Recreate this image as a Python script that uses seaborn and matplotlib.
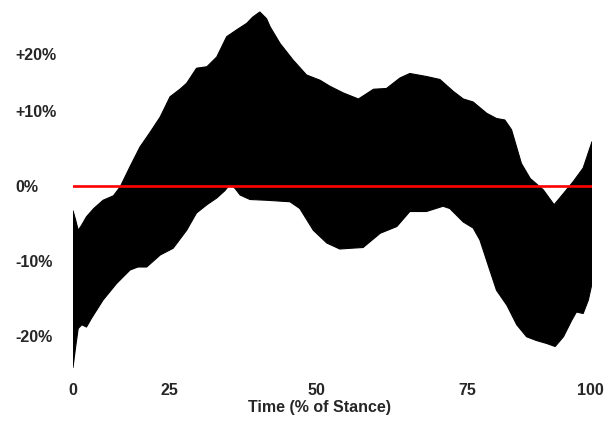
import numpy as np
import matplotlib
matplotlib.use("Agg")
import matplotlib.pyplot as plt
import seaborn as sns

# Upper edge of the range band (time in % of stance, value in %)
upper_t = [0, 0.5, 1.0, 1.6, 2.6, 4.0, 5.8, 7.8, 9.1, 11.0, 12.9, 14.8, 16.8, 18.7,
           20.6, 21.9, 23.8, 25.8, 27.7, 29.6, 31.5, 33.5, 34.6, 36.0, 37.3, 38.0,
           39.9, 42.4, 45.0, 47.6, 49.5, 52.1, 55.0, 57.9, 60.4, 63.0, 64.9, 68.1,
           70.7, 73.3, 75.2, 77.1, 79.7, 81.6, 83.2, 84.5, 86.4, 88.1, 90.6, 92.7,
           94.5, 96.4, 98.3, 100]
upper_v = [-3.3, -4.5, -5.9, -5.3, -4.1, -3.0, -1.9, -1.3, -0.1, 2.6, 5.2, 7.1, 9.2, 11.9,
           12.9, 13.7, 15.7, 15.9, 17.2, 19.9, 20.8, 21.7, 22.5, 23.2, 22.3, 21.2,
           19.0, 16.8, 14.8, 14.1, 13.3, 12.4, 11.6, 12.9, 13.0, 14.4, 15.0, 14.6,
           14.2, 12.6, 11.6, 11.2, 9.7, 9.0, 8.8, 7.5, 3.0, 1.0, -0.5, -2.5,
           -1.0, 0.6, 2.4, 5.9]

# Lower edge of the range band
lower_t = [0, 0.5, 1.0, 1.7, 2.6, 3.6, 5.8, 8.4, 11.0, 12.5, 14.2, 16.8, 19.3, 21.9,
           23.8, 25.8, 27.7, 29.3, 30.2, 31.2, 32.2, 34.1, 37.3, 41.8, 43.7, 46.3,
           48.9, 51.4, 53.5, 55.9, 59.2, 62.4, 64.9, 68.1, 71.3, 72.6, 75.2, 77.1,
           78.4, 80.3, 81.6, 83.6, 85.5, 87.4, 89.3, 91.3, 92.9, 94.5, 96.1, 97.0,
           98.3, 99.3, 100]
lower_v = [-24.2, -21.5, -19.0, -18.5, -18.8, -17.6, -15.2, -13.0, -11.2, -10.8, -10.8,
           -9.2, -8.3, -5.9, -3.6, -2.5, -1.6, -0.6, 0.2, -0.3, -1.2, -1.8, -1.9, -2.1,
           -3.0, -5.9, -7.6, -8.4, -8.3, -8.2, -6.3, -5.4, -3.4, -3.4, -2.7, -3.0,
           -4.8, -5.6, -7.2, -11.2, -13.9, -15.9, -18.5, -20.1, -20.6, -21.0, -21.4,
           -20.1, -17.9, -16.8, -17.0, -15.2, -13.0]

# Reference line and axis labels
ref_t = [0, 100]
ref_v = [0, 0]
x_tick_pos = [0, 18.5, 47.0, 75.9, 99.6]
x_tick_labels = ["0", "25", "50", "75", "100"]
y_tick_pos = [-20, -10, 0, 10, 17.6]
y_tick_labels = ["-20%", "-10%", "0%", "+10%", "+20%"]

sns.set_theme(style="white")
plt.rcParams["font.family"] = ["Liberation Sans", "DejaVu Sans"]

fig = plt.figure(figsize=(6.13, 4.22), dpi=100)
W, H = 613, 422
ax = fig.add_axes([73 / W, (H - 370) / H, (592 - 73) / W, (370 - 5) / H])

band_t = np.concatenate([upper_t, lower_t[::-1]])
band_v = np.concatenate([upper_v, lower_v[::-1]])
ax.fill(band_t, band_v, color="black", linewidth=0.8, edgecolor="black",
        joinstyle="round")

sns.lineplot(x=ref_t, y=ref_v, ax=ax, color="#ff0000", linewidth=1.9)

ax.set_xlim(0, 100)
ax.set_ylim(-24.53, 24.13)
sns.despine(ax=ax, left=True, bottom=True)

ax.set_xticks(x_tick_pos)
ax.set_xticklabels(x_tick_labels, fontsize=11.5, fontweight="bold")
ax.set_yticks(y_tick_pos)
ax.set_yticklabels(y_tick_labels, fontsize=11.5, fontweight="bold", ha="left")
ax.tick_params(axis="x", length=0, pad=9.5)
ax.tick_params(axis="y", length=0, pad=41.8)

ax.set_xlabel("Time (% of Stance)", fontsize=11.5, fontweight="bold")
ax.xaxis.set_label_coords(0.475, -0.083)
ax.set_ylabel("")

fig.savefig("out.png", dpi=100, facecolor="white")
